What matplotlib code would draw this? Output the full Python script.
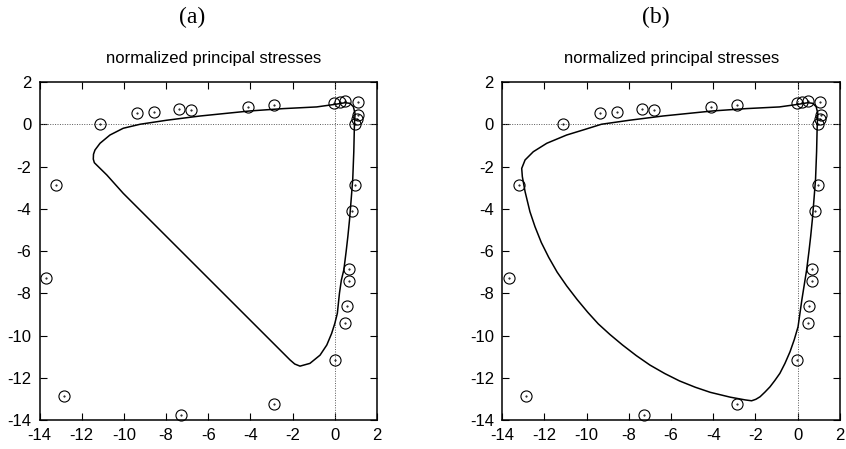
import numpy as np
import matplotlib
matplotlib.use('Agg')
from matplotlib import pyplot as plt

plt.rcParams['font.family'] = ['Liberation Sans', 'DejaVu Sans']
plt.rcParams['axes.unicode_minus'] = False

# measured points (same in both panels)
pts_x = [-11.13, -9.39, -8.55, -7.39, -6.81, -4.11, -2.86, -0.03, 0.23, 0.48, 1.08, 1.09, 1.06, 0.98,
         -13.21, 0.95, 0.81,
         -13.70, -12.86, -7.27, -2.88, -0.01, 0.67, 0.67, 0.56, 0.50]
pts_y = [0.0, 0.52, 0.57, 0.70, 0.68, 0.80, 0.93, 1.01, 1.07, 1.12, 1.07, 0.46, 0.25, 0.02,
         -2.88, -2.88, -4.10,
         -7.28, -12.88, -13.74, -13.22, -11.14, -6.84, -7.41, -8.58, -9.39]

# model curve (a)
curve_a_x = [0.93, 0.96, 0.88, 0.72, 0.49, 0.0, -0.86, -2.44, -4.02, -4.81, -6.39, -7.97, -9.23,
             -10.03, -10.66, -11.13, -11.37, -11.44, -11.45, -11.40, -11.29, -10.81, -10.03,
             -2.12, -1.90, -1.65, -1.18, -0.70, -0.38, -0.15, 0.0,
             0.12, 0.22, 0.31, 0.43, 0.54, 0.62, 0.70, 0.78, 0.85, 0.90, 0.93]
curve_a_y = [0.0, 0.50, 0.83, 0.99, 1.02, 0.94, 0.82, 0.74, 0.63, 0.55, 0.39, 0.19, 0.0,
             -0.19, -0.51, -0.90, -1.22, -1.42, -1.65, -1.82, -1.93, -2.40, -3.27,
             -11.16, -11.35, -11.45, -11.32, -10.93, -10.45, -9.90, -9.43,
             -8.95, -8.0, -7.38, -6.88, -6.0, -5.3, -4.5, -3.5, -2.6, -1.3, 0.0]

# model curve (b)
curve_b_x = [0.93, 0.96, 0.88, 0.72, 0.49, 0.0, -0.86, -2.44, -4.02, -4.81, -6.39, -7.97, -9.30,
             -10.10, -10.95, -11.89, -12.53, -12.92, -13.08, -13.05, -12.92, -12.69, -12.45,
             -12.15, -11.80, -11.40, -10.95, -10.45, -9.95, -9.45, -8.90, -8.30, -7.65,
             -7.00, -6.30, -5.60, -4.85, -4.14, -3.19, -2.48,
             -2.18, -1.98, -1.78, -1.55, -1.31, -1.08, -0.84, -0.6, -0.36, -0.16, 0.02,
             0.20, 0.35, 0.43, 0.54, 0.62, 0.70, 0.78, 0.85, 0.90, 0.93]
curve_b_y = [0.0, 0.50, 0.83, 0.99, 1.02, 0.94, 0.82, 0.74, 0.63, 0.55, 0.39, 0.19, 0.0,
             -0.25, -0.51, -0.90, -1.30, -1.69, -2.09, -2.48, -3.19, -4.14, -4.85,
             -5.60, -6.30, -7.00, -7.65, -8.30, -8.90, -9.45, -9.95, -10.45, -10.95,
             -11.40, -11.80, -12.15, -12.45, -12.69, -12.92, -13.05,
             -13.09, -13.02, -12.90, -12.68, -12.43, -12.13, -11.79, -11.32, -10.77, -10.2, -9.59,
             -8.32, -7.38, -6.88, -6.0, -5.3, -4.5, -3.5, -2.6, -1.3, 0.0]

ticks = list(range(-14, 3, 2))
title = 'normalized principal stresses'

fig = plt.figure(figsize=(8.46, 4.49), dpi=100)
W, H = 846, 449

def panel(left, cx, cy, label, label_x, title_x):
    ax = fig.add_axes([left / W, 1 - 420 / H, 337.5 / W, 338 / H])
    ax.axhline(0, color='0.35', ls=(0, (1, 1.5)), lw=0.7)
    ax.axvline(0, color='0.35', ls=(0, (1, 1.5)), lw=0.7)
    ax.plot(cx, cy, color='k', lw=1.1)
    ax.plot(pts_x, pts_y, 'o', mfc='none', mec='k', ms=8, mew=0.8, clip_on=False)
    ax.plot(pts_x, pts_y, '.', color='k', ms=1.0, clip_on=False)
    ax.set_xlim(-14, 2)
    ax.set_ylim(-14, 2)
    ax.set_xticks(ticks)
    ax.set_yticks(ticks)
    ax.tick_params(direction='in', top=True, right=True, length=5, width=0.8,
                   labelsize=12, pad=6)
    for s in ax.spines.values():
        s.set_linewidth(1.1)
    fig.text(title_x / W, 1 - 58 / H, title, fontsize=12, ha='center', va='center')
    fig.text(label_x / W, 1 - 17 / H, label, family='Liberation Serif', fontsize=17,
             ha='center', va='center')
    return ax

panel(39.5, curve_a_x, curve_a_y, '(a)', 192.6, 214)
panel(502.3, curve_b_x, curve_b_y, '(b)', 655.5, 671.5)

plt.savefig('out.png', dpi=100)
